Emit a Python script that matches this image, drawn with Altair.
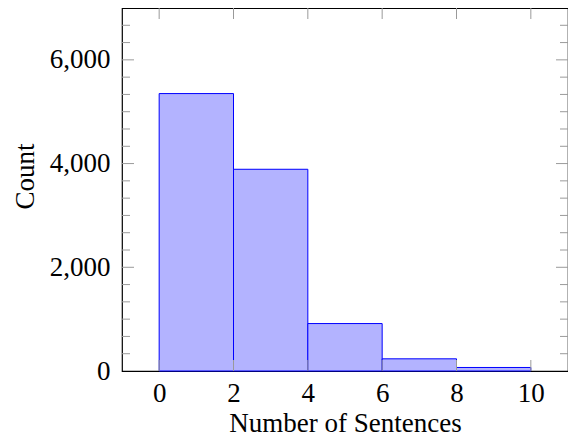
import altair as alt
import pandas as pd

# Histogram bins and counts
bin_start = [0, 2, 4, 6, 8]
bin_end = [2, 4, 6, 8, 10]
counts = [5350, 3890, 915, 235, 68]

# Axis tick values
x_ticks = [0, 2, 4, 6, 8, 10]
y_major = [0, 2000, 4000, 6000]
y_minor = [round(i * 2000 / 6, 3) for i in range(1, 21) if i % 6 != 0]

W, H = 446, 363
TICK_COLOR = "#9a9a9a"
FONT = "Liberation Serif"

df = pd.DataFrame({"start": bin_start, "end": bin_end, "count": counts})
xs = alt.Scale(domain=[-1, 11], nice=False, zero=False)
ys = alt.Scale(domain=[0, 7000], nice=False)

x_axis = alt.Axis(values=x_ticks, title="Number of Sentences", labelPadding=9,
                  titleY=60, titleBaseline="alphabetic")
y_axis = alt.Axis(values=y_major, format=",d", title="Count", labelPadding=12,
                  titleX=-89, titleY=168, titleBaseline="alphabetic", titleAngle=-90)

bars = alt.Chart(df).mark_rect(fill="#B3B3FF", stroke="#0000FF", strokeWidth=1).encode(
    x=alt.X("start:Q", scale=xs, axis=x_axis),
    x2="end:Q",
    y=alt.Y("count:Q", scale=ys, axis=y_axis),
    y2=alt.datum(0),
)

xt = pd.DataFrame({"t": x_ticks})
ymaj = pd.DataFrame({"t": y_major[1:]})
ymin = pd.DataFrame({"t": y_minor})

def xrule(y1, y2):
    return alt.Chart(xt).mark_rule(color=TICK_COLOR, strokeWidth=1).encode(
        x=alt.X("t:Q", scale=xs, axis=x_axis), y=alt.value(y1), y2=alt.value(y2))

def yrule(data, x1, x2):
    return alt.Chart(data).mark_rule(color=TICK_COLOR, strokeWidth=1).encode(
        y=alt.Y("t:Q", scale=ys, axis=y_axis), x=alt.value(x1), x2=alt.value(x2))

layers = [
    bars,
    xrule(H - 11, H), xrule(0, 11),
    yrule(ymaj, 0, 12), yrule(ymaj, W - 12, W),
    yrule(ymin, 0, 8), yrule(ymin, W - 8, W),
]

chart = alt.layer(*layers).properties(
    width=W, height=H,
    autosize=alt.AutoSizeParams(type="none"),
    padding={"left": 114, "top": 0, "right": 0, "bottom": 67},
).configure_view(stroke="black", strokeWidth=1.2).configure_axis(
    labelFont=FONT, labelFontSize=27, labelColor="black",
    titleFont=FONT, titleFontSize=27, titleFontWeight="normal", titleColor="black",
    domain=False, ticks=False, tickSize=0, grid=False,
)

chart.save("out.html", embed_options={"renderer": "svg", "actions": False})
